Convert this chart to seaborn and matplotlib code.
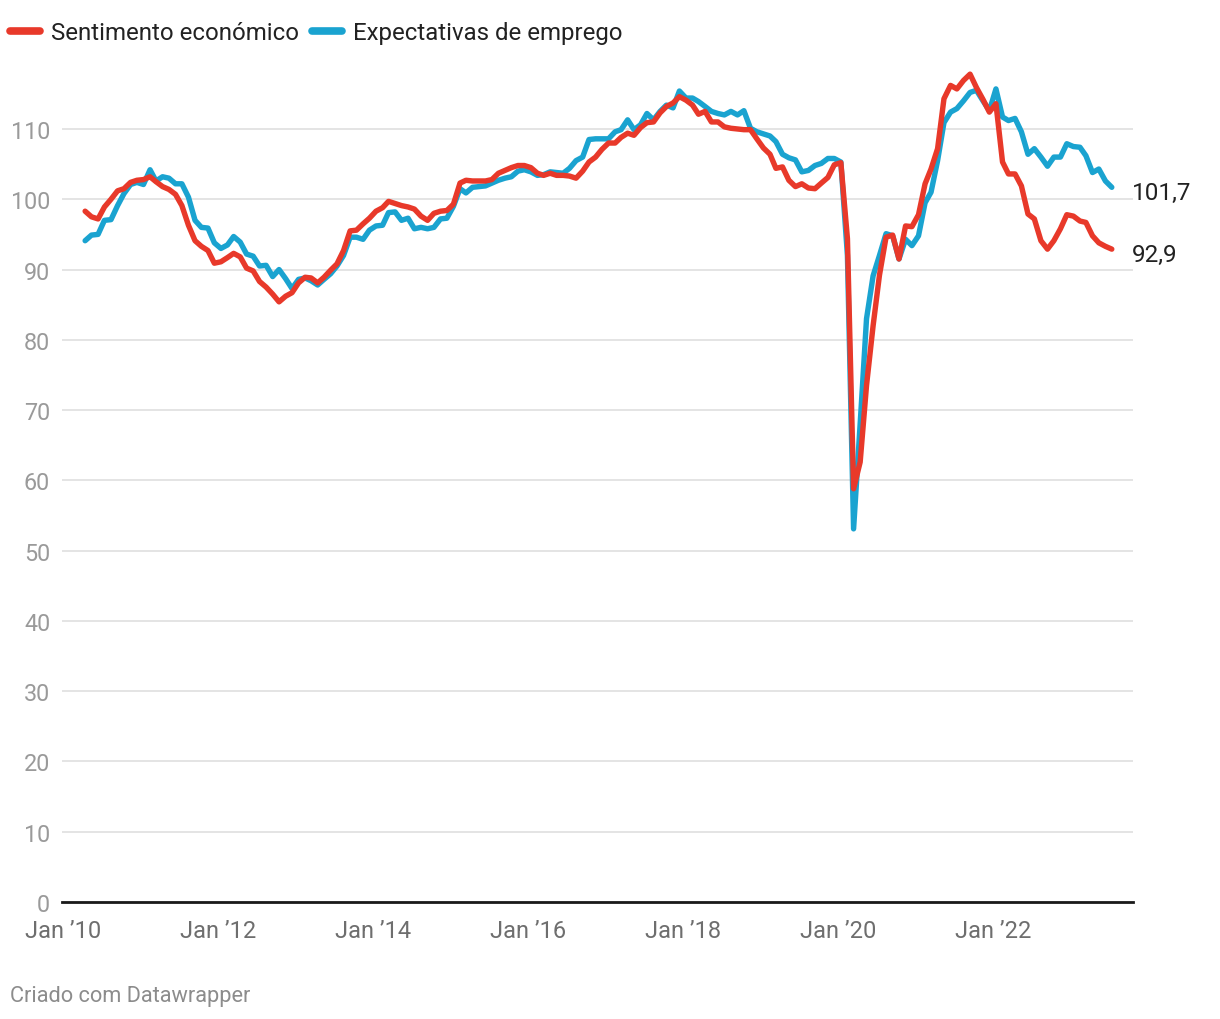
import numpy as np
import pandas as pd
import seaborn as sns
import matplotlib
import matplotlib.pyplot as plt
from matplotlib.lines import Line2D

# ---------------- data (monthly, Apr 2010 - Jul 2023, mid-month) ----------------
start_month = "2010-04-01"
n_months = 160

sentimento = [
    98.3, 97.5, 97.2, 98.9, 100.0, 101.2, 101.5, 102.4, 102.7, 102.8,
    103.2, 102.5, 101.8, 101.4, 100.7, 99.1, 96.3, 94.1, 93.3, 92.7,
    90.9, 91.1, 91.7, 92.3, 91.8, 90.2, 89.8, 88.3, 87.5, 86.5,
    85.4, 86.2, 86.7, 88.1, 88.9, 88.8, 88.1, 88.9, 89.9, 90.8,
    92.7, 95.5, 95.6, 96.5, 97.3, 98.3, 98.8, 99.7, 99.4, 99.1,
    98.9, 98.6, 97.6, 97.0, 98.0, 98.3, 98.4, 99.3, 102.3, 102.7,
    102.6, 102.6, 102.6, 102.8, 103.7, 104.1, 104.5, 104.8, 104.8, 104.5,
    103.7, 103.4, 103.7, 103.4, 103.4, 103.3, 103.0, 104.0, 105.3, 106.0,
    107.1, 108.0, 108.0, 108.8, 109.4, 109.1, 110.2, 110.9, 111.0, 112.3,
    113.2, 113.7, 114.6, 114.1, 113.4, 112.1, 112.5, 111.0, 111.0, 110.3,
    110.1, 110.0, 109.9, 109.9, 108.6, 107.3, 106.4, 104.4, 104.6, 102.7,
    101.8, 102.2, 101.6, 101.5, 102.3, 103.1, 104.9, 105.2, 94.4, 58.8,
    62.6, 73.5, 82.0, 89.2, 94.6, 94.9, 91.5, 96.2, 96.1, 97.8,
    102.2, 104.3, 107.2, 114.3, 116.2, 115.7, 116.9, 117.8, 115.9, 114.2,
    112.4, 113.6, 105.3, 103.6, 103.6, 101.9, 97.9, 97.2, 94.1, 92.9,
    94.1, 95.8, 97.8, 97.6, 96.9, 96.7, 94.8, 93.8, 93.3, 92.9,
]

expectativas = [
    94.1, 94.9, 95.0, 97.0, 97.1, 99.1, 100.8, 102.1, 102.4, 102.1,
    104.2, 102.6, 103.2, 103.0, 102.2, 102.2, 100.3, 97.0, 96.0, 95.9,
    93.8, 93.0, 93.5, 94.7, 93.9, 92.2, 91.9, 90.5, 90.6, 89.0,
    90.0, 88.7, 87.3, 88.6, 88.8, 88.4, 87.8, 88.6, 89.4, 90.5,
    92.0, 94.6, 94.6, 94.3, 95.6, 96.2, 96.3, 98.1, 98.2, 97.0,
    97.3, 95.8, 96.0, 95.8, 96.0, 97.2, 97.3, 99.0, 101.5, 100.9,
    101.7, 101.8, 101.9, 102.3, 102.7, 103.0, 103.2, 104.0, 104.2, 103.9,
    103.4, 103.5, 103.9, 103.8, 103.7, 104.4, 105.5, 106.0, 108.5, 108.6,
    108.6, 108.6, 109.6, 109.9, 111.3, 109.9, 110.6, 112.2, 111.3, 112.5,
    113.4, 113.0, 115.4, 114.4, 114.4, 113.9, 113.2, 112.5, 112.2, 112.0,
    112.5, 112.0, 112.6, 110.1, 109.6, 109.3, 109.0, 108.2, 106.4, 105.9,
    105.6, 103.9, 104.1, 104.8, 105.1, 105.8, 105.8, 105.3, 92.0, 53.1,
    68.0, 83.0, 89.1, 92.0, 95.1, 94.8, 91.5, 94.3, 93.4, 94.8,
    99.5, 101.0, 105.5, 110.9, 112.4, 112.9, 114.0, 115.2, 115.5, 114.0,
    112.6, 115.7, 111.7, 111.2, 111.5, 109.6, 106.4, 107.2, 106.0, 104.7,
    106.0, 106.0, 107.9, 107.5, 107.4, 106.2, 103.8, 104.3, 102.6, 101.7,
]

serie_names = ["Sentimento económico", "Expectativas de emprego"]
serie_colors = ["#e8392a", "#1aa3d0"]
end_labels = ["92,9", "101,7"]

y_ticks = [0, 10, 20, 30, 40, 50, 60, 70, 80, 90, 100, 110]
x_tick_years = [2010, 2012, 2014, 2016, 2018, 2020, 2022]
x_tick_labels = ["Jan \u201910", "Jan \u201912", "Jan \u201914", "Jan \u201916",
                 "Jan \u201918", "Jan \u201920", "Jan \u201922"]
footer = "Criado com Datawrapper"

# ---------------- build table ----------------
dates = pd.date_range(start_month, periods=n_months, freq="MS") + pd.Timedelta(days=14)
df = pd.concat([
    pd.DataFrame({"data": dates, "valor": sentimento, "serie": serie_names[0]}),
    pd.DataFrame({"data": dates, "valor": expectativas, "serie": serie_names[1]}),
], ignore_index=True)

# ---------------- style ----------------
sns.set_theme(style="white")
plt.rcParams["font.family"] = ["Roboto", "DejaVu Sans"]

W, H = 1220, 1020
fig = plt.figure(figsize=(W / 100, H / 100), dpi=100)
ax_left, ax_right, ax_bottom, ax_top = 62, 1133, 903, 59.7
ax = fig.add_axes([ax_left / W, 1 - ax_bottom / H,
                   (ax_right - ax_left) / W, (ax_bottom - ax_top) / H])

palette = {serie_names[0]: serie_colors[0], serie_names[1]: serie_colors[1]}
sns.lineplot(data=df, x="data", y="valor", hue="serie",
             hue_order=[serie_names[1], serie_names[0]],
             palette=palette, linewidth=3.9, legend=False, ax=ax)
for ln in ax.lines:
    ln.set_solid_capstyle("round")
    ln.set_solid_joinstyle("round")

ax.set_ylim(0, 120)
ax.set_xlim(pd.Timestamp("2009-12-27"), pd.Timestamp("2023-10-23"))
ax.set_yticks(y_ticks)
ax.set_yticklabels([str(v) for v in y_ticks])
ax.set_xticks(pd.to_datetime([f"{y}-01-01" for y in x_tick_years]))
ax.set_xticklabels(x_tick_labels)
ax.set_xlabel("")
ax.set_ylabel("")

ax.grid(axis="y", color="#e2e2e2", linewidth=1.3)
ax.grid(axis="x", visible=False)
ax.set_axisbelow(True)
for s in ["top", "left", "right"]:
    ax.spines[s].set_visible(False)
ax.spines["bottom"].set_color("#1a1a1a")
ax.spines["bottom"].set_linewidth(2.0)
ax.spines["bottom"].set_zorder(5)

ax.tick_params(axis="y", length=0, pad=8.5, labelsize=16.8, labelcolor="#9a9a9a")
ax.tick_params(axis="x", length=0, pad=12.5, labelsize=17, labelcolor="#6e6e6e")

# end labels
for vals, lab in zip([sentimento, expectativas], end_labels):
    ax.annotate(lab, xy=(1.0, vals[-1]), xycoords=("axes fraction", "data"),
                xytext=(-1, -3.5), textcoords="offset points",
                ha="left", va="center", fontsize=17.5, color="#222222")

# legend
handles = [Line2D([0], [0], color=c, lw=5.5, solid_capstyle="round") for c in serie_colors]
fig.legend(handles, serie_names, loc="upper left",
           bbox_to_anchor=(10 / W, 1 - 22 / H), ncol=2, frameon=False,
           fontsize=17.3, handlelength=1.25, handletextpad=0.45,
           columnspacing=0.55, borderaxespad=0, borderpad=0,
           labelcolor="#222222")

fig.text(10 / W, 1 - 997 / H, footer, ha="left", va="center",
         fontsize=15.7, color="#8c8c8c")

fig.savefig("out.png", dpi=100)
